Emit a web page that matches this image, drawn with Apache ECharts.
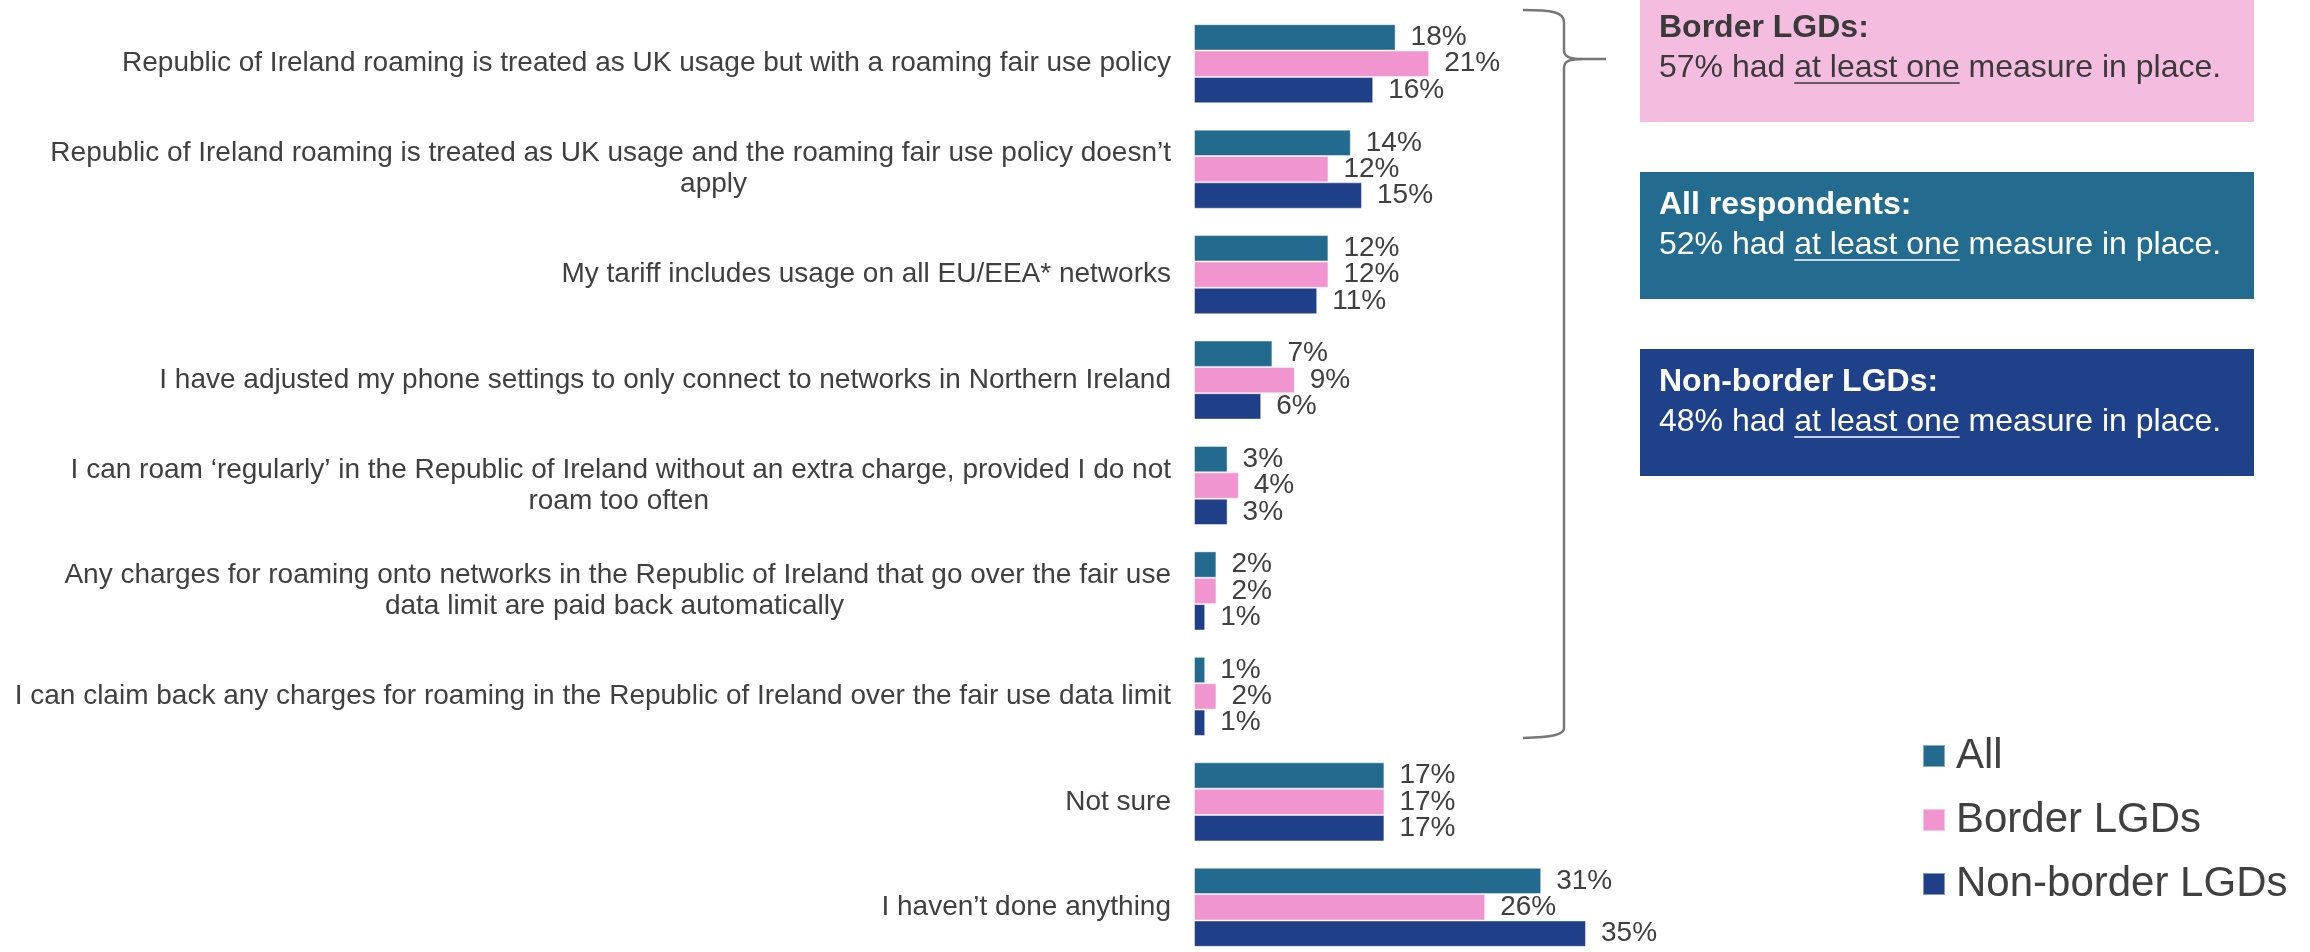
<!DOCTYPE html>
<html>
<head>
<meta charset="utf-8">
<script src="https://cdn.jsdelivr.net/npm/echarts@6/dist/echarts.min.js"></script>
<style>
  html, body { margin: 0; padding: 0; background: #fff; overflow: hidden; }
  #chart { width: 2310px; height: 972px; }
</style>
</head>
<body>
<div id="chart"></div>
<script>
// 数据
const categories = [
    'Republic of Ireland roaming is treated as UK usage but with a roaming fair use policy',
    'Republic of Ireland roaming is treated as UK usage and the roaming fair use policy doesn\u2019t\n{p1|apply}',
    'My tariff includes usage on all EU/EEA* networks',
    'I have adjusted my phone settings to only connect to networks in Northern Ireland',
    'I can roam \u2018regularly\u2019 in the Republic of Ireland without an extra charge, provided I do not\n{p2|roam too often}',
    'Any charges for roaming onto networks in the Republic of Ireland that go over the fair use\n{p3|data limit are paid back automatically}',
    'I can claim back any charges for roaming in the Republic of Ireland over the fair use data limit',
    'Not sure',
    'I haven\u2019t done anything'
];
const seriesNames = ['All', 'Border LGDs', 'Non-border LGDs'];
const allValues = [18, 14, 12, 7, 3, 2, 1, 17, 31];
const borderValues = [21, 12, 12, 9, 4, 2, 2, 17, 26];
const nonBorderValues = [16, 15, 11, 6, 3, 1, 1, 17, 35];

const boxTitles = ['Border LGDs:', 'All respondents:', 'Non-border LGDs:'];
const boxPercents = ['57%', '52%', '48%'];

const colors = ['#226B8F', '#F095CF', '#1F3F89'];
const FONT = '"Liberation Sans", Arial, sans-serif';
const textColor = '#404040';

const chart = echarts.init(document.getElementById('chart'));

// 右侧文本框
const boxes = [
    { top: -5, fill: '#F4BDE0', text: '#3a3a3a' },
    { top: 172, fill: '#236C8F', text: '#ffffff' },
    { top: 349, fill: '#1F418A', text: '#ffffff' }
];
const ctx = document.createElement('canvas').getContext('2d');
ctx.font = '32px ' + FONT;

const graphics = [];
boxes.forEach((b, i) => {
    graphics.push({
        type: 'rect',
        shape: { x: 1640, y: b.top, width: 614, height: 127 },
        style: { fill: b.fill }
    });
    graphics.push({
        type: 'text', x: 1659, y: b.top + 33,
        style: { text: boxTitles[i], font: 'bold 32px ' + FONT, fill: b.text, align: 'left', verticalAlign: 'middle' }
    });
    const pre = boxPercents[i] + ' had ';
    const mid = 'at least one';
    const w1 = ctx.measureText(pre).width;
    const w2 = ctx.measureText(mid).width;
    const base = b.top + 84;
    graphics.push({
        type: 'text', x: 1659, y: base - 11,
        style: { text: pre, font: '32px ' + FONT, fill: b.text, align: 'left', verticalAlign: 'middle' }
    });
    graphics.push({
        type: 'text', x: 1659 + w1, y: base - 11,
        style: { text: mid, font: '32px ' + FONT, fill: b.text, align: 'left', verticalAlign: 'middle' }
    });
    graphics.push({
        type: 'text', x: 1659 + w1 + w2, y: base - 11,
        style: { text: ' measure in place.', font: '32px ' + FONT, fill: b.text, align: 'left', verticalAlign: 'middle' }
    });
    graphics.push({
        type: 'line',
        shape: { x1: 1659 + w1, y1: base + 4, x2: 1659 + w1 + w2, y2: base + 4 },
        style: { stroke: b.text, lineWidth: 1.5 }
    });
});

// 大括号
const braceStyle = { stroke: '#777777', lineWidth: 2.5, fill: null };
const curve = (x1, y1, cpx1, cpy1, cpx2, cpy2, x2, y2) => ({
    type: 'bezierCurve',
    shape: { x1, y1, cpx1, cpy1, cpx2, cpy2, x2, y2 },
    style: braceStyle
});
const seg = (x1, y1, x2, y2) => ({
    type: 'line', shape: { x1, y1, x2, y2 }, style: braceStyle
});
graphics.push(
    curve(1523, 10, 1552, 10, 1564, 12, 1564, 22),
    seg(1564, 22, 1564, 50),
    curve(1564, 50, 1564, 57, 1570, 59, 1582, 59),
    seg(1582, 59, 1606, 59),
    curve(1582, 59, 1570, 59, 1564, 61, 1564, 68),
    seg(1564, 68, 1564, 728),
    curve(1564, 728, 1564, 735, 1552, 737, 1523, 738)
);

const makeSeries = (name, data, color) => ({
    name: name,
    type: 'bar',
    data: data,
    barGap: '0%',
    barCategoryGap: '25%',
    itemStyle: { color: color, borderColor: 'rgba(255,255,255,0.45)', borderWidth: 1 },
    label: {
        show: true,
        position: 'right',
        distance: 15,
        formatter: '{c}%',
        fontSize: 28,
        fontFamily: FONT,
        color: textColor
    }
});

chart.setOption({
    animation: false,
    textStyle: { fontFamily: FONT },
    color: colors,
    grid: { left: 1194, top: 11, width: 560, height: 949 },
    xAxis: {
        type: 'value', min: 0, max: 50,
        show: false
    },
    yAxis: {
        type: 'category',
        inverse: true,
        data: categories,
        axisLine: { show: false },
        axisTick: { show: false },
        axisLabel: {
            interval: 0,
            margin: 23,
            fontSize: 28,
            lineHeight: 31,
            color: textColor,
            fontFamily: FONT,
            align: 'right',
            rich: {
                p1: { fontSize: 28, lineHeight: 31, color: textColor, fontFamily: FONT, padding: [0, 424, 0, 0] },
                p2: { fontSize: 28, lineHeight: 31, color: textColor, fontFamily: FONT, padding: [0, 462, 0, 0] },
                p3: { fontSize: 28, lineHeight: 31, color: textColor, fontFamily: FONT, padding: [0, 327, 0, 0] }
            }
        }
    },
    legend: {
        data: seriesNames,
        orient: 'vertical',
        left: 1922,
        top: 735,
        padding: 0,
        icon: 'rect',
        itemWidth: 22,
        itemHeight: 22,
        itemGap: 22,
        textStyle: { fontSize: 42, color: textColor, fontFamily: FONT, padding: [0, 0, 0, 6] }
    },
    graphic: graphics,
    series: [
        makeSeries(seriesNames[0], allValues, colors[0]),
        makeSeries(seriesNames[1], borderValues, colors[1]),
        makeSeries(seriesNames[2], nonBorderValues, colors[2])
    ]
});

window.addEventListener('resize', () => chart.resize());
</script>
</body>
</html>
